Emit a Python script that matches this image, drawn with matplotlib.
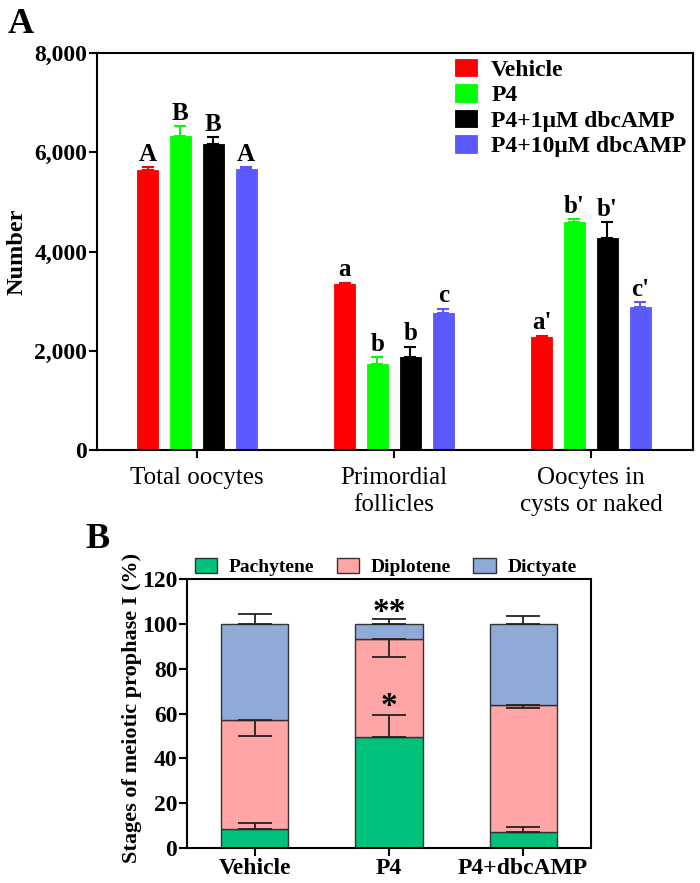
import matplotlib
matplotlib.use("Agg")
import matplotlib.pyplot as plt
import matplotlib.ticker as mticker
import numpy as np

plt.rcParams['font.family'] = ['Liberation Serif', 'DejaVu Serif']

# ---- panel A data ----
groups_a = ["Total oocytes", "Primordial\nfollicles", "Oocytes in\ncysts or naked"]
treat_a = ["Vehicle", "P4", "P4+1\u03bcM dbcAMP", "P4+10\u03bcM dbcAMP"]
colors_a = ["#ff0000", "#00ff00", "#000000", "#5a5aff"]
vals_vehicle = [5645, 3340, 2285]
vals_p4 = [6330, 1735, 4585]
vals_p4_1 = [6160, 1880, 4275]
vals_p4_10 = [5660, 2770, 2885]
err_vehicle = [50, 35, 20]
err_p4 = [200, 140, 65]
err_p4_1 = [140, 200, 320]
err_p4_10 = [40, 75, 95]
letters_vehicle = ["A", "a", "a'"]
letters_p4 = ["B", "b", "b'"]
letters_p4_1 = ["B", "b", "b'"]
letters_p4_10 = ["A", "c", "c'"]

# ---- panel B data ----
cats_b = ["Vehicle", "P4", "P4+dbcAMP"]
stages = ["Pachytene", "Diplotene", "Dictyate"]
colors_b = ["#00c27a", "#ffa5a5", "#8eaad6"]
pachytene = [8.3, 49.7, 7.3]
diplotene = [48.8, 43.5, 56.5]
dictyate = [42.9, 6.8, 36.2]
err_pach = [3.0, 9.8, 2.2]
err_dipl = [7.1, 7.8, 1.5]
err_dict = [4.3, 2.1, 3.6]

fig = plt.figure(figsize=(7, 8.83), dpi=100)

# ================= panel A =================
ax = fig.add_axes([97/700, 1-450/883, 596/700, 397/883])
vals = [vals_vehicle, vals_p4, vals_p4_1, vals_p4_10]
errs = [err_vehicle, err_p4, err_p4_1, err_p4_10]
lets = [letters_vehicle, letters_p4, letters_p4_1, letters_p4_10]
x = np.arange(len(groups_a))
step = 0.167
w = 0.109
for i in range(4):
    xs = x + (i - 1.5) * step
    ax.bar(xs, vals[i], w, color=colors_a[i], edgecolor=colors_a[i],
           linewidth=0.6, label=treat_a[i], zorder=2)
    ax.errorbar(xs, vals[i], yerr=[np.zeros(3), errs[i]], fmt='none',
                ecolor=colors_a[i], elinewidth=1.5,
                capsize=4.5, capthick=1.5, zorder=3)
    for j in range(3):
        ax.annotate(lets[i][j], (xs[j], vals[i][j] + errs[i][j]),
                    xytext=(0, 1), textcoords='offset points',
                    ha='center', va='bottom', fontsize=18, fontweight='bold')

ax.set_xlim(-0.507, 2.518)
ax.set_ylim(0, 8000)
ax.set_yticks([0, 2000, 4000, 6000, 8000])
ax.yaxis.set_major_formatter(mticker.FuncFormatter(lambda v, p: f"{int(v):,}"))
ax.set_xticks(x)
ax.set_xticklabels(groups_a, fontsize=18, va='top', linespacing=1.3)
for lab in ax.get_yticklabels():
    lab.set_fontweight('bold')
    lab.set_fontsize(17)
ax.tick_params(axis='y', length=6, width=1.5, pad=1)
ax.tick_params(axis='x', length=6, width=1.5, pad=6)
for s in ax.spines.values():
    s.set_linewidth(1.5)
ax.set_ylabel("Number", fontsize=17.5, fontweight='bold')
ax.yaxis.set_label_coords(-0.117, 0.5)
ax.legend(loc='upper left', bbox_to_anchor=(0.60, 0.985), frameon=False,
          prop={'weight': 'bold', 'size': 17}, handlelength=0.95,
          handleheight=0.75, handletextpad=0.6, labelspacing=0.15,
          borderaxespad=0, borderpad=0)

fig.text(8/700, 1-33/883, "A", fontsize=26, fontweight='bold')

# ================= panel B =================
bx = fig.add_axes([187/700, 1-848/883, 404/700, 269/883])
xb = np.arange(len(cats_b))
wb = 0.5
pach = np.array(pachytene)
dipl = np.array(diplotene)
dct = np.array(dictyate)
bx.bar(xb, pach, wb, color=colors_b[0], edgecolor='#333333', linewidth=1,
       label=stages[0], zorder=2)
bx.bar(xb, dipl, wb, bottom=pach, color=colors_b[1], edgecolor='#333333',
       linewidth=1, label=stages[1], zorder=2)
bx.bar(xb, dct, wb, bottom=pach + dipl, color=colors_b[2], edgecolor='#333333',
       linewidth=1, label=stages[2], zorder=2)
ekw = dict(fmt='none', ecolor='#222222', elinewidth=1.3, capsize=12,
           capthick=1.3, zorder=3)
bx.errorbar(xb, pach, yerr=[np.zeros(3), err_pach], **ekw)
bx.errorbar(xb, pach + dipl, yerr=[err_dipl, np.zeros(3)], **ekw)
bx.errorbar(xb, pach + dipl + dct, yerr=[np.zeros(3), err_dict], **ekw)
bx.annotate("*", (xb[1], pach[1] + err_pach[1]), xytext=(0, 0),
            textcoords='offset points', ha='center', va='baseline',
            fontsize=24, fontweight='bold')
bx.annotate("**", (xb[1], pach[1] + dipl[1] + dct[1] + err_dict[1]),
            xytext=(0, -1.5), textcoords='offset points', ha='center',
            va='baseline', fontsize=24, fontweight='bold')

bx.set_xlim(-0.507, 2.507)
bx.set_ylim(0, 120)
bx.set_yticks(range(0, 121, 20))
bx.set_xticks(xb)
bx.set_xticklabels(cats_b, fontsize=17, fontweight='bold')
for lab in bx.get_yticklabels():
    lab.set_fontweight('bold')
    lab.set_fontsize(17)
bx.tick_params(length=6, width=1.5, pad=1)
for s in bx.spines.values():
    s.set_linewidth(1.5)
bx.set_ylabel("Stages of meiotic prophase I (%)", fontsize=16,
              fontweight='bold')
bx.yaxis.set_label_coords(-0.111, 0.52)
bx.legend(loc='lower left', bbox_to_anchor=(0.02, 1.01), ncol=3,
          frameon=False, prop={'weight': 'bold', 'size': 14},
          handlelength=1.15, handleheight=0.85, handletextpad=0.6,
          columnspacing=1.14, borderaxespad=0, borderpad=0)

fig.text(85/700, 1-548/883, "B", fontsize=26, fontweight='bold')

fig.savefig("out.png", dpi=100)
